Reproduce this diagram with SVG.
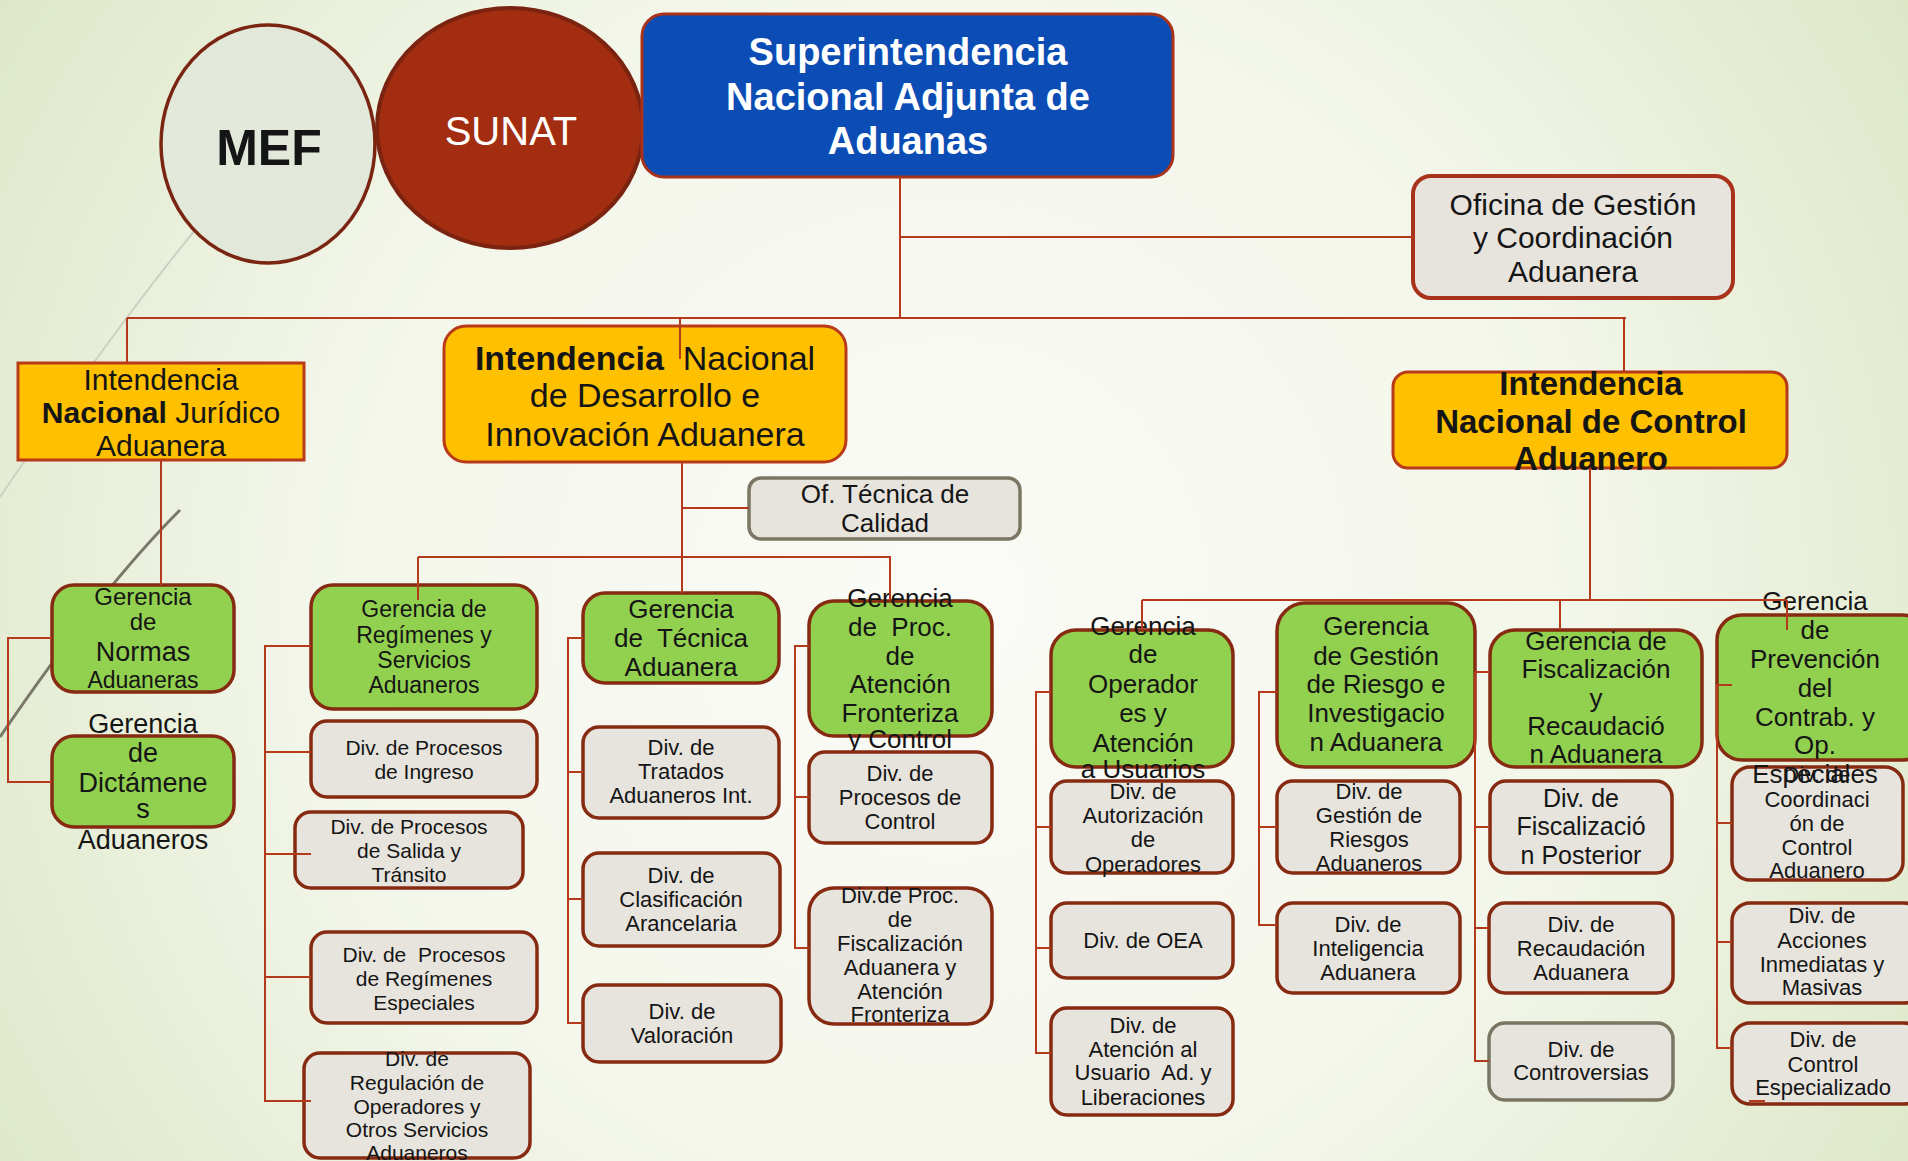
<svg xmlns="http://www.w3.org/2000/svg" width="1908" height="1161" viewBox="0 0 1908 1161">
<defs>
<radialGradient id="bg" cx="950" cy="600" r="1150" gradientUnits="userSpaceOnUse">
<stop offset="0" stop-color="#fbfbf7"/>
<stop offset="0.55" stop-color="#f3f6ea"/>
<stop offset="1" stop-color="#dce7c6"/>
</radialGradient>
<style>
.t{font-family:"Liberation Sans",Arial,sans-serif;fill:#151515;text-anchor:middle}
.b{font-weight:bold}
.green{fill:#92d050;stroke:#862a12;stroke-width:3.5}
.gray{fill:#e7e4dd;stroke:#862a12;stroke-width:3.5}
.grayo{fill:#e7e4dd;stroke:#7b7662;stroke-width:3.5}
.yellow{fill:#ffc000;stroke:#b83a18;stroke-width:3}
.conn{fill:none;stroke:#b5391b;stroke-width:2}
.f21{font-size:21px}
.f22{font-size:22px}
.f23{font-size:23px}
.f26{font-size:26px}
</style>
</defs>
<rect x="0" y="0" width="1908" height="1161" fill="url(#bg)"/>
<g id="decor">
<path d="M205,218 Q120,320 0,497" fill="none" stroke="#cdd0c2" stroke-width="2"/>
<path d="M180,510 Q100,590 0,737" fill="none" stroke="#7a7868" stroke-width="3"/>
</g>

<g id="mef">
<ellipse cx="268" cy="144" rx="107" ry="119" fill="#e2e9da" stroke="#7a2511" stroke-width="3.5"/>
<text class="t b" x="269" y="165" font-size="50" fill="#000">MEF</text>
</g>
<g id="sunat">
<ellipse cx="510" cy="128" rx="133" ry="120" fill="#a32d10" stroke="#7a2310" stroke-width="4"/>
<text class="t" x="511" y="145" font-size="40" style="fill:#ffffff">SUNAT</text>
</g>
<g id="superintendencia">
<rect x="642" y="14" width="531" height="163" rx="22" fill="#0b4db5" stroke="#a8321a" stroke-width="3"/>
<text class="t b" font-size="38" style="fill:#ffffff"><tspan x="908" y="65">Superintendencia</tspan><tspan x="908" y="110">Nacional Adjunta de</tspan><tspan x="908" y="154">Aduanas</tspan></text>
</g>
<g id="oficina">
<rect x="1413" y="176" width="320" height="122" rx="18" fill="#e7e4dd" stroke="#a8321a" stroke-width="4"/>
<text class="t" font-size="30"><tspan x="1573" y="215">Oficina de Gestión</tspan><tspan x="1573" y="248">y Coordinación</tspan><tspan x="1573" y="282">Aduanera</tspan></text>
</g>
<g id="int-juridico">
<rect class="yellow" x="18" y="363" width="286" height="97"/>
<text class="t" font-size="30"><tspan x="161" y="390">Intendencia</tspan><tspan x="161" y="423"><tspan class="b">Nacional</tspan> Jurídico</tspan><tspan x="161" y="456">Aduanera</tspan></text>
</g>
<g id="int-desarrollo">
<rect class="yellow" x="444" y="326" width="402" height="136" rx="22"/>
<text class="t" font-size="34"><tspan x="645" y="370"><tspan class="b">Intendencia</tspan><tspan dx="19">Nacional</tspan></tspan><tspan x="645" y="407">de Desarrollo e</tspan><tspan x="645" y="446">Innovación Aduanera</tspan></text>
</g>
<g id="int-control">
<rect class="yellow" x="1393" y="372" width="394" height="96" rx="15"/>
<text class="t b" font-size="33"><tspan x="1591" y="395">Intendencia</tspan><tspan x="1591" y="433">Nacional de Control</tspan><tspan x="1591" y="470">Aduanero</tspan></text>
</g>
<g id="of-tecnica">
<rect class="grayo" x="749" y="478" width="271" height="61" rx="12"/>
<text class="t f26"><tspan x="885" y="503">Of. Técnica de</tspan><tspan x="885" y="532">Calidad</tspan></text>
</g>

<g id="ger-normas">
<rect class="green" x="52" y="585" width="182" height="107" rx="22"/>
<text class="t"><tspan x="143" y="605" font-size="24">Gerencia</tspan><tspan x="143" y="630" font-size="24">de</tspan><tspan x="143" y="661" font-size="27">Normas</tspan><tspan x="143" y="688" font-size="23">Aduaneras</tspan></text>
</g>
<g id="ger-dictamenes">
<rect class="green" x="52" y="736" width="182" height="91" rx="22"/>
<text class="t" font-size="27"><tspan x="143" y="733">Gerencia</tspan><tspan x="143" y="762">de</tspan><tspan x="143" y="792">Dictámene</tspan><tspan x="143" y="818">s</tspan><tspan x="143" y="849">Aduaneros</tspan></text>
</g>

<g id="ger-regimenes">
<rect class="green" x="311" y="585" width="226" height="124" rx="22"/>
<text class="t f23"><tspan x="424" y="617">Gerencia de</tspan><tspan x="424" y="643">Regímenes y</tspan><tspan x="424" y="668">Servicios</tspan><tspan x="424" y="693">Aduaneros</tspan></text>
</g>
<g id="div-ingreso">
<rect class="gray" x="311" y="721" width="226" height="76" rx="16"/>
<text class="t f21"><tspan x="424" y="755">Div. de Procesos</tspan><tspan x="424" y="779">de Ingreso</tspan></text>
</g>
<g id="div-salida">
<rect class="gray" x="295" y="812" width="228" height="76" rx="16"/>
<text class="t f21"><tspan x="409" y="834">Div. de Procesos</tspan><tspan x="409" y="858">de Salida y</tspan><tspan x="409" y="882">Tránsito</tspan></text>
</g>
<g id="div-especiales">
<rect class="gray" x="311" y="932" width="226" height="91" rx="16"/>
<text class="t f21" xml:space="preserve"><tspan x="424" y="962">Div. de  Procesos</tspan><tspan x="424" y="986">de Regímenes</tspan><tspan x="424" y="1010">Especiales</tspan></text>
</g>
<g id="div-regulacion">
<rect class="gray" x="304" y="1053" width="226" height="105" rx="16"/>
<text class="t f21"><tspan x="417" y="1066">Div. de</tspan><tspan x="417" y="1090">Regulación de</tspan><tspan x="417" y="1114">Operadores y</tspan><tspan x="417" y="1137">Otros Servicios</tspan><tspan x="417" y="1160">Aduaneros</tspan></text>
</g>

<g id="ger-tecnica">
<rect class="green" x="583" y="593" width="196" height="90" rx="22"/>
<text class="t f26" xml:space="preserve"><tspan x="681" y="618">Gerencia</tspan><tspan x="681" y="647">de  Técnica</tspan><tspan x="681" y="676">Aduanera</tspan></text>
</g>
<g id="div-tratados">
<rect class="gray" x="583" y="727" width="196" height="91" rx="16"/>
<text class="t f22"><tspan x="681" y="755">Div. de</tspan><tspan x="681" y="779">Tratados</tspan><tspan x="681" y="803">Aduaneros Int.</tspan></text>
</g>
<g id="div-clasificacion">
<rect class="gray" x="583" y="853" width="197" height="93" rx="16"/>
<text class="t f22"><tspan x="681" y="883">Div. de</tspan><tspan x="681" y="907">Clasificación</tspan><tspan x="681" y="931">Arancelaria</tspan></text>
</g>
<g id="div-valoracion">
<rect class="gray" x="583" y="985" width="198" height="77" rx="16"/>
<text class="t f22"><tspan x="682" y="1019">Div. de</tspan><tspan x="682" y="1043">Valoración</tspan></text>
</g>

<g id="ger-proc">
<rect class="green" x="809" y="601" width="183" height="135" rx="25"/>
<text class="t f26" xml:space="preserve"><tspan x="900" y="607">Gerencia</tspan><tspan x="900" y="636">de  Proc.</tspan><tspan x="900" y="665">de</tspan><tspan x="900" y="693">Atención</tspan><tspan x="900" y="722">Fronteriza</tspan><tspan x="900" y="748">y Control</tspan></text>
</g>
<g id="div-proc-control">
<rect class="gray" x="809" y="752" width="183" height="91" rx="16"/>
<text class="t f22"><tspan x="900" y="781">Div. de</tspan><tspan x="900" y="805">Procesos de</tspan><tspan x="900" y="829">Control</tspan></text>
</g>
<g id="div-proc-fisc">
<rect class="gray" x="809" y="888" width="183" height="136" rx="25"/>
<text class="t f22"><tspan x="900" y="903">Div.de Proc.</tspan><tspan x="900" y="927">de</tspan><tspan x="900" y="951">Fiscalización</tspan><tspan x="900" y="975">Aduanera y</tspan><tspan x="900" y="999">Atención</tspan><tspan x="900" y="1022">Fronteriza</tspan></text>
</g>

<g id="ger-operadores">
<rect class="green" x="1051" y="630" width="182" height="137" rx="25"/>
<text class="t f26"><tspan x="1143" y="635">Gerencia</tspan><tspan x="1143" y="663">de</tspan><tspan x="1143" y="693">Operador</tspan><tspan x="1143" y="722">es y</tspan><tspan x="1143" y="752">Atención</tspan><tspan x="1143" y="778">a Usuarios</tspan></text>
</g>
<g id="div-autorizacion">
<rect class="gray" x="1051" y="781" width="182" height="92" rx="16"/>
<text class="t f22"><tspan x="1143" y="799">Div. de</tspan><tspan x="1143" y="823">Autorización</tspan><tspan x="1143" y="847">de</tspan><tspan x="1143" y="872">Operadores</tspan></text>
</g>
<g id="div-oea">
<rect class="gray" x="1051" y="903" width="182" height="75" rx="16"/>
<text class="t f22" x="1143" y="948">Div. de OEA</text>
</g>
<g id="div-atencion-usuario">
<rect class="gray" x="1051" y="1008" width="182" height="107" rx="16"/>
<text class="t f22" xml:space="preserve"><tspan x="1143" y="1033">Div. de</tspan><tspan x="1143" y="1057">Atención al</tspan><tspan x="1143" y="1080">Usuario  Ad. y</tspan><tspan x="1143" y="1105">Liberaciones</tspan></text>
</g>

<g id="ger-riesgo">
<rect class="green" x="1277" y="603" width="198" height="164" rx="28"/>
<text class="t f26"><tspan x="1376" y="635">Gerencia</tspan><tspan x="1376" y="665">de Gestión</tspan><tspan x="1376" y="693">de Riesgo e</tspan><tspan x="1376" y="722">Investigacio</tspan><tspan x="1376" y="751">n Aduanera</tspan></text>
</g>
<g id="div-gestion-riesgos">
<rect class="gray" x="1277" y="781" width="183" height="92" rx="16"/>
<text class="t f22"><tspan x="1369" y="799">Div. de</tspan><tspan x="1369" y="823">Gestión de</tspan><tspan x="1369" y="847">Riesgos</tspan><tspan x="1369" y="871">Aduaneros</tspan></text>
</g>
<g id="div-inteligencia">
<rect class="gray" x="1277" y="903" width="183" height="90" rx="16"/>
<text class="t f22"><tspan x="1368" y="932">Div. de</tspan><tspan x="1368" y="956">Inteligencia</tspan><tspan x="1368" y="980">Aduanera</tspan></text>
</g>

<g id="ger-fiscalizacion">
<rect class="green" x="1490" y="630" width="212" height="137" rx="25"/>
<text class="t f26"><tspan x="1596" y="650">Gerencia de</tspan><tspan x="1596" y="678">Fiscalización</tspan><tspan x="1596" y="707">y</tspan><tspan x="1596" y="735">Recaudació</tspan><tspan x="1596" y="763">n Aduanera</tspan></text>
</g>
<g id="div-fisc-posterior">
<rect class="gray" x="1490" y="781" width="182" height="92" rx="16"/>
<text class="t" font-size="25"><tspan x="1581" y="807">Div. de</tspan><tspan x="1581" y="835">Fiscalizació</tspan><tspan x="1581" y="864">n Posterior</tspan></text>
</g>
<g id="div-recaudacion">
<rect class="gray" x="1489" y="903" width="184" height="90" rx="16"/>
<text class="t f22"><tspan x="1581" y="932">Div. de</tspan><tspan x="1581" y="956">Recaudación</tspan><tspan x="1581" y="980">Aduanera</tspan></text>
</g>
<g id="div-controversias">
<rect class="grayo" x="1489" y="1023" width="184" height="77" rx="16"/>
<text class="t f22"><tspan x="1581" y="1057">Div. de</tspan><tspan x="1581" y="1080">Controversias</tspan></text>
</g>

<g id="div-coordinacion">
<rect class="gray" x="1732" y="767" width="171" height="113" rx="18"/>
<text class="t f22"><tspan x="1817" y="782">Div. de</tspan><tspan x="1817" y="807">Coordinaci</tspan><tspan x="1817" y="831">ón de</tspan><tspan x="1817" y="855">Control</tspan><tspan x="1817" y="878">Aduanero</tspan></text>
</g>
<g id="ger-prevencion">
<rect class="green" x="1717" y="615" width="210" height="145" rx="25"/>
<text class="t f26"><tspan x="1815" y="610">Gerencia</tspan><tspan x="1815" y="639">de</tspan><tspan x="1815" y="668">Prevención</tspan><tspan x="1815" y="697">del</tspan><tspan x="1815" y="726">Contrab. y</tspan><tspan x="1815" y="754">Op.</tspan><tspan x="1815" y="783">Especiales</tspan></text>
</g>
<g id="div-acciones">
<rect class="gray" x="1732" y="903" width="190" height="100" rx="18"/>
<text class="t f22"><tspan x="1822" y="923">Div. de</tspan><tspan x="1822" y="948">Acciones</tspan><tspan x="1822" y="972">Inmediatas y</tspan><tspan x="1822" y="995">Masivas</tspan></text>
</g>
<g id="div-control-esp">
<rect class="gray" x="1732" y="1023" width="190" height="81" rx="18"/>
<text class="t f22"><tspan x="1823" y="1047">Div. de</tspan><tspan x="1823" y="1072">Control</tspan><tspan x="1823" y="1095">Especializado</tspan></text>
</g>

<g id="connectors" class="conn">
<path d="M900,177 V318"/>
<path d="M900,237 H1413"/>
<path d="M127,318 H1626"/>
<path d="M127,318 V363"/>
<path d="M1624,318 V372"/>
<path d="M680,318 V359"/>
<path d="M161,460 V585"/>
<path d="M52,638 H8 V782 H52"/>
<path d="M682,462 V593"/>
<path d="M682,508 H749"/>
<path d="M418,557 H890 V600"/>
<path d="M418,557 V600"/>
<path d="M311,646 H265 V1101 H311"/>
<path d="M265,752 H311"/>
<path d="M265,854 H311"/>
<path d="M265,977 H311"/>
<path d="M583,638 H568 V1023 H583"/>
<path d="M568,772 H583"/>
<path d="M568,899 H583"/>
<path d="M809,646 H795 V948 H809"/>
<path d="M795,797 H809"/>
<path d="M1590,468 V600"/>
<path d="M1142,600 H1787"/>
<path d="M1142,600 V630"/>
<path d="M1560,600 V630"/>
<path d="M1787,600 V630"/>
<path d="M1051,692 H1036 V1053 H1051"/>
<path d="M1036,827 H1051"/>
<path d="M1036,948 H1051"/>
<path d="M1277,692 H1259 V925 H1277"/>
<path d="M1259,827 H1277"/>
<path d="M1475,672 H1490"/>
<path d="M1475,672 V1061 H1489"/>
<path d="M1475,827 H1490"/>
<path d="M1475,928 H1489"/>
<path d="M1732,685 H1717 V1048 H1732"/>
<path d="M1717,823 H1732"/>
<path d="M1717,942 H1732"/>
<path d="M1749,1101 H1765"/>
</g>
</svg>
